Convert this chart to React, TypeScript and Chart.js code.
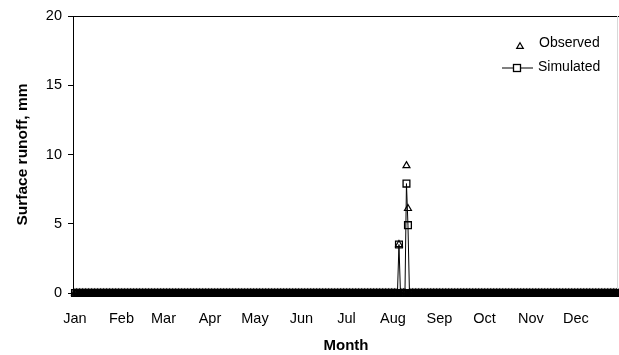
import { useEffect, useRef } from 'react';
import { Chart, registerables } from 'chart.js';

Chart.register(...registerables);

// ---- Data ----
const MONTH_LABELS = ['Jan', 'Feb', 'Mar', 'Apr', 'May', 'Jun', 'Jul', 'Aug', 'Sep', 'Oct', 'Nov', 'Dec'];
const MONTH_START_DAYS = [0, 31, 59, 90, 120, 151, 181, 212, 243, 273, 304, 334];
const DAYS_IN_YEAR = 365;
const Y_TICKS = [0, 5, 10, 15, 20];

// Non-zero daily runoff events (day of year, 0 = Jan 1); every other day reads as 0 mm
const OBSERVED_EVENT_DAYS = [216, 221, 222];
const OBSERVED_EVENT_VALUES = [3.5, 9.2, 6.1];
const SIMULATED_EVENT_DAYS = [216, 221, 222];
const SIMULATED_EVENT_VALUES = [3.5, 7.9, 4.9];

const LEGEND_LABELS = ['Observed', 'Simulated'];

// visible x window of the original plot (the plot runs past the right edge)
const X_MIN = -1.33;
const X_MAX = 362.7;

function buildDaily(days: number[], values: number[]) {
  const out: { x: number; y: number }[] = [];
  for (let d = 0; d < DAYS_IN_YEAR; d++) {
    const i = days.indexOf(d);
    out.push({ x: d, y: i >= 0 ? values[i] : 0 });
  }
  return out;
}

const FONT = '"Liberation Sans", Arial, Helvetica, sans-serif';

const frameAndLegend = {
  id: 'frameAndLegend',
  afterDraw(chart: any) {
    const { ctx, chartArea } = chart;
    ctx.save();
    // top frame line
    ctx.strokeStyle = '#000';
    ctx.lineWidth = 1;
    ctx.beginPath();
    ctx.moveTo(chartArea.left, chartArea.top + 0.5);
    ctx.lineTo(chartArea.right, chartArea.top + 0.5);
    ctx.stroke();
    // faint right frame line
    ctx.strokeStyle = '#d8d8d8';
    ctx.beginPath();
    ctx.moveTo(617.5, chartArea.top);
    ctx.lineTo(617.5, chartArea.bottom - 4);
    ctx.stroke();

    // legend
    ctx.fillStyle = '#000';
    ctx.strokeStyle = '#000';
    ctx.font = '14px ' + FONT;
    ctx.textBaseline = 'middle';
    ctx.textAlign = 'left';
    // Observed: triangle marker
    const tx = 520, ty = 46.5, r = 3.8;
    ctx.lineWidth = 1.2;
    ctx.beginPath();
    ctx.moveTo(tx, ty - r);
    ctx.lineTo(tx + r * 0.866, ty + r * 0.5);
    ctx.lineTo(tx - r * 0.866, ty + r * 0.5);
    ctx.closePath();
    ctx.stroke();
    ctx.fillText(LEGEND_LABELS[0], 539, 43);
    // Simulated: line with square marker
    const sy = 68;
    ctx.lineWidth = 1;
    ctx.beginPath();
    ctx.moveTo(502, sy);
    ctx.lineTo(533, sy);
    ctx.stroke();
    ctx.lineWidth = 1.3;
    ctx.fillStyle = '#fff';
    ctx.fillRect(513.5, sy - 3.5, 7, 7);
    ctx.strokeRect(513.5, sy - 3.5, 7, 7);
    ctx.fillStyle = '#000';
    ctx.fillText(LEGEND_LABELS[1], 538, 67.5);
    ctx.restore();
  },
};

export default function App() {
  const canvasRef = useRef<HTMLCanvasElement | null>(null);

  useEffect(() => {
    const canvas = canvasRef.current;
    if (!canvas) return;
    const chart = new Chart(canvas, {
      type: 'line',
      data: {
        datasets: [
          {
            label: LEGEND_LABELS[1],
            data: buildDaily(SIMULATED_EVENT_DAYS, SIMULATED_EVENT_VALUES),
            borderColor: '#000',
            borderWidth: 1,
            pointStyle: 'rect',
            pointRadius: 4.8,
            pointBorderWidth: 1.3,
            pointBorderColor: '#000',
            pointBackgroundColor: 'rgba(0,0,0,0)',
            tension: 0,
            clip: false as any,
          },
          {
            label: LEGEND_LABELS[0],
            data: buildDaily(OBSERVED_EVENT_DAYS, OBSERVED_EVENT_VALUES),
            showLine: false,
            borderColor: '#000',
            pointStyle: 'triangle',
            pointRadius: 4,
            pointBorderWidth: 1.2,
            pointBorderColor: '#000',
            pointBackgroundColor: 'rgba(0,0,0,0)',
            clip: false as any,
          },
        ],
      },
      options: {
        animation: false,
        responsive: false,
        layout: { autoPadding: false, padding: { top: 16, right: 0, left: 0, bottom: 0 } },
        plugins: { legend: { display: false }, tooltip: { enabled: false } },
        scales: {
          x: {
            type: 'linear',
            min: X_MIN,
            max: X_MAX,
            afterBuildTicks: (scale: any) => {
              scale.ticks = MONTH_START_DAYS.map((v) => ({ value: v }));
            },
            afterFit: (scale: any) => {
              scale.height = 62;
              scale.paddingLeft = 0;
              scale.paddingRight = 0;
            },
            ticks: {
              autoSkip: false,
              maxRotation: 0,
              minRotation: 0,
              padding: 17,
              color: '#000',
              font: { size: 14.5, family: FONT },
              callback: (value: any) => {
                const i = MONTH_START_DAYS.indexOf(Number(value));
                return i >= 0 ? MONTH_LABELS[i] : '';
              },
            },
            grid: { display: false, drawTicks: false },
            border: { display: true, color: '#000', width: 1 },
            title: {
              display: true,
              text: 'Month',
              color: '#000',
              font: { size: 15, weight: 'bold', family: FONT },
              padding: { top: 0, bottom: 0 },
            },
          },
          y: {
            min: 0,
            max: 20,
            afterBuildTicks: (scale: any) => {
              scale.ticks = Y_TICKS.map((v) => ({ value: v }));
            },
            afterFit: (scale: any) => {
              scale.width = 73;
            },
            ticks: {
              padding: 6,
              color: '#000',
              font: { size: 14.5, family: FONT },
            },
            grid: { drawOnChartArea: false, drawTicks: true, tickLength: 5, color: '#000' },
            border: { display: true, color: '#000', width: 1 },
            title: {
              display: true,
              text: 'Surface runoff, mm',
              color: '#000',
              font: { size: 15.5, weight: 'bold', family: FONT },
              padding: { top: 13, bottom: 0 },
            },
          },
        },
      },
      plugins: [frameAndLegend],
    });
    return () => chart.destroy();
  }, []);

  return (
    <div style={{ position: 'fixed', left: 0, top: 0, width: 619, height: 355, background: '#fff' }}>
      <canvas ref={canvasRef} width={619} height={355} style={{ display: 'block' }} />
    </div>
  );
}
